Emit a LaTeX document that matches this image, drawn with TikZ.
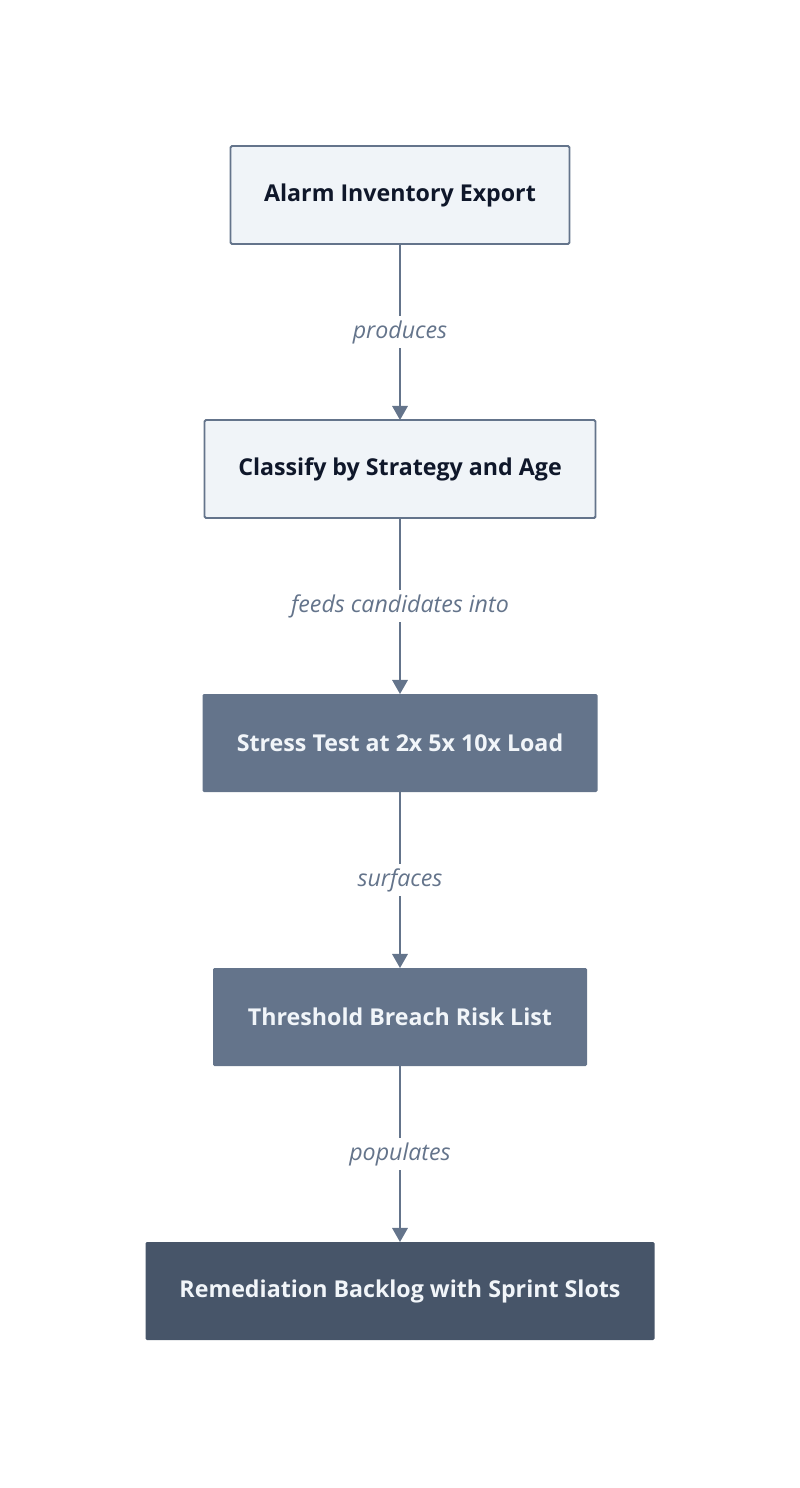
\documentclass[tikz,border=0pt]{standalone}
\usepackage{fontspec}
\setmainfont{Open Sans}
\usetikzlibrary{positioning, arrows.meta}

\definecolor{slateline}{HTML}{64748B}
\definecolor{slatelight}{HTML}{F0F4F8}
\definecolor{slatemid}{HTML}{64748B}
\definecolor{slatedark}{HTML}{475569}
\definecolor{inkdark}{HTML}{0F172A}
\definecolor{inklight}{HTML}{F1F5F9}

\tikzset{
    box/.style={rectangle, rounded corners=1pt, outer sep=0pt, minimum height=2.45cm, font=\fontsize{16.5}{19}\selectfont\bfseries},
    lightbox/.style={box, draw=slateline, line width=1.4pt, fill=slatelight, text=inkdark},
    midbox/.style={box, fill=slatemid, text=inklight},
    darkbox/.style={box, fill=slatedark, text=inklight},
    flow/.style={draw=slateline, line width=1.4pt, -{Triangle[length=10pt, width=11pt]}},
    edgelabel/.style={fill=white, text=slateline, inner sep=3pt, font=\fontsize{16.5}{19}\selectfont\itshape}
}

\begin{document}
\begin{tikzpicture}[node distance=4.4cm]

    \useasboundingbox (0, 0) rectangle (20, -37.2);

    \node[lightbox, minimum width=8.475cm] (export) at (10, -4.875) {Alarm Inventory Export};
    \node[lightbox, minimum width=9.775cm, below=of export] (classify) {Classify by Strategy and Age};
    \node[midbox, minimum width=9.875cm, below=of classify] (stress) {Stress Test at 2x 5x 10x Load};
    \node[midbox, minimum width=9.35cm, below=of stress] (risk) {Threshold Breach Risk List};
    \node[darkbox, minimum width=12.725cm, below=of risk] (backlog) {Remediation Backlog with Sprint Slots};

    \draw[flow] (export) -- node[edgelabel] {produces} (classify);
    \draw[flow] (classify) -- node[edgelabel] {feeds candidates into} (stress);
    \draw[flow] (stress) -- node[edgelabel] {surfaces} (risk);
    \draw[flow] (risk) -- node[edgelabel] {populates} (backlog);

\end{tikzpicture}
\end{document}
